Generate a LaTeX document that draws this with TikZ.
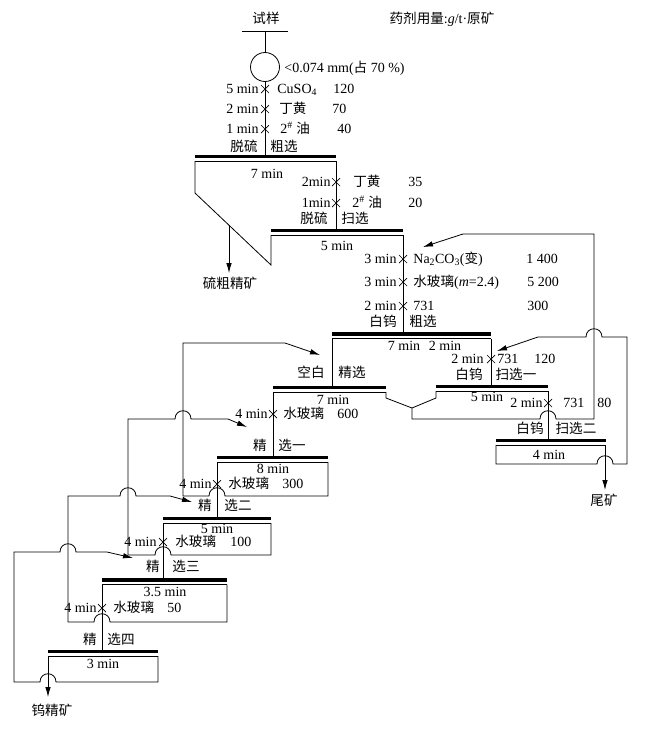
\documentclass[tikz,border=0pt]{standalone}
\usepackage{fontspec}
\setmainfont{Liberation Serif}
\newfontfamily\cjk[Scale=0.97]{Noto Sans CJK SC}
\usetikzlibrary{arrows.meta}
\newcommand\zhs[1]{{\cjk #1}}
\begin{document}
\begin{tikzpicture}[x=1pt,y=-1pt,line width=0.8pt,
  lbl/.style={inner sep=0pt,text height=11pt,text depth=1.5pt,font=\fontsize{14}{16}\selectfont},
  zh/.style={lbl,font=\fontsize{14}{16}\selectfont\cjk},
  arr/.style={-{Latex[length=10pt,width=5.5pt]}},
  barthick/.style={line width=3.5pt},
  barthin/.style={line width=0.7pt},
  xmark/.pic={\draw[line width=0.7pt] (-4,-4)--(4,4) (-4,4)--(4,-4);},
  hopl/.style 2 args={insert path={-- ({#1+8},#2) .. controls ({#1+8},{#2-11}) and ({#1-8},{#2-11}) .. ({#1-8},#2)}},
  hopr/.style 2 args={insert path={-- ({#1-8},#2) .. controls ({#1-8},{#2-11}) and ({#1+8},{#2-11}) .. ({#1+8},#2)}}]
\useasboundingbox (0,0) rectangle (648,729);
\newcommand\cellbar[3]{\draw[barthick] (#1,#3) -- (#2,#3); \draw[barthin] (#1,{#3+4.5}) -- (#2,{#3+4.5});}

% ---------- top ----------
\node[zh] (sample) at (266,19) {试样};
\node[lbl] (dose) at (442,19) {\zhs{药剂用量}:\textit{g}/t·\zhs{原矿}};
\draw (242,31) coordinate (tl) -- (288,31) coordinate (tr);
\node[circle,draw,minimum size=29pt,inner sep=0pt,line width=0.8pt] (grind) at (265,67) {};
\coordinate (top) at (265,31);
\draw (top) -- (grind.north);
\node[lbl,anchor=west] (size) at (284,68) {<0.074 mm(\zhs{占} 70 \%)};
\coordinate (b1top) at (265,154.75);
\draw (grind.south) -- (b1top);
\pic at (265,89) {xmark};
\pic at (265,109) {xmark};
\pic at (265,129) {xmark};
\node[lbl,anchor=east] (r1a) at (259,89) {5 min};
\node[lbl,anchor=west] (r1b) at (277,89) {CuSO\textsubscript{4}};
\node[lbl,anchor=west] (r1c) at (333,89) {120};
\node[lbl,anchor=east] (r2a) at (259,109) {2 min};
\node[zh,anchor=west] (r2b) at (279,109) {丁黄};
\node[lbl,anchor=west] (r2c) at (332,109) {70};
\node[lbl,anchor=east] (r3a) at (259,129) {1 min};
\node[lbl,anchor=west] (r3b) at (280,129) {2\textsuperscript{\#} \zhs{油}};
\node[lbl,anchor=west] (r3c) at (337,129) {40};
\node[zh] (c1a) at (244,147) {脱硫};
\node[zh] (c1b) at (284,147) {粗选};

% ---------- cell 1: 脱硫粗选 ----------
\cellbar{195}{336}{156.5}
\node[lbl] (t1) at (267,174) {7 min};
\draw (195,161) -- (195,193) -- (271,265) -- (271,235);
\draw (336,161) -- (336,228.75);
\pic at (336,182) {xmark};
\pic at (336,203) {xmark};
\node[lbl,anchor=east] (s1a) at (331,182) {2min};
\node[zh,anchor=west] (s1b) at (353,182) {丁黄};
\node[lbl,anchor=west] (s1c) at (408,182) {35};
\node[lbl,anchor=east] (s2a) at (331,203) {1min};
\node[lbl,anchor=west] (s2b) at (352,203) {2\textsuperscript{\#} \zhs{油}};
\node[lbl,anchor=west] (s2c) at (408,203) {20};
\node[zh] (c2a) at (314,219) {脱硫};
\node[zh] (c2b) at (355,219) {扫选};
\coordinate (sconc) at (229,225);
\node[zh] (sulf) at (230,284) {硫粗精矿};
\draw[arr] (sconc) -- (229,273);

% ---------- cell 2: 脱硫扫选 ----------
\cellbar{271}{403}{230.5}
\node[lbl] (t2) at (337,246) {5 min};
\draw (403,235) -- (403,332.25);
\pic at (403,259) {xmark};
\pic at (403,282) {xmark};
\pic at (403,306) {xmark};
\node[lbl,anchor=east] (w1a) at (397,259) {3 min};
\node[lbl,anchor=west] (w1b) at (413,259) {Na\textsubscript{2}CO\textsubscript{3}(\zhs{变})};
\node[lbl,anchor=west] (w1c) at (526,259) {1 400};
\node[lbl,anchor=east] (w2a) at (397,282) {3 min};
\node[lbl,anchor=west] (w2b) at (413,282) {\zhs{水玻璃}(\textit{m}=2.4)};
\node[lbl,anchor=west] (w2c) at (527,282) {5 200};
\node[lbl,anchor=east] (w3a) at (397,306) {2 min};
\node[lbl,anchor=west] (w3b) at (413,306) {731};
\node[lbl,anchor=west] (w3c) at (527,306) {300};
\node[zh] (c3a) at (383,322) {白钨};
\node[zh] (c3b) at (423,322) {粗选};

% ---------- cell 3: 白钨粗选 ----------
\cellbar{332}{491}{334}
\draw (332,338.5) -- (332,385.75);
\draw (491,338.5) -- (491,384.75);
\pic at (491,359) {xmark};
\node[lbl] (t3a) at (404,346) {7 min};
\node[lbl] (t3b) at (445,346) {2 min};
\node[lbl,anchor=east] (k1a) at (484,359) {2 min};
\node[lbl,anchor=west] (k1b) at (497,359) {731};
\node[lbl,anchor=west] (k1c) at (534,359) {120};
\node[zh] (c4a) at (311,373) {空白};
\node[zh] (c4b) at (352,373) {精选};
\node[zh] (c5a) at (469,375) {白钨};
\node[zh] (c5b) at (516,375) {扫选一};

% ---------- cell 4: 空白精选 ----------
\cellbar{273}{386}{387.5}
\node[lbl] (t4) at (333,400) {7 min};
\draw (273,392) -- (273,455.75);
\pic at (273,414) {xmark};
\node[lbl,anchor=east] (q1a) at (268,414) {4 min};
\node[zh,anchor=west] (q1b) at (283,414) {水玻璃};
\node[lbl,anchor=west] (q1c) at (337,414) {600};
\coordinate (roughfeed) at (423,247);
\draw[arr] (386,392) -- (386,398) -- (412,408) -- (412,419) [hopr={548}{419}] -- (594,419) -- (594,234) -- (463,234) -- (roughfeed);

% ---------- cell 5: 扫选一 ----------
\cellbar{436}{548}{386.5}
\node[lbl] (t5) at (487,397) {5 min};
\draw (436,391) -- (436,398) -- (412,408);
\draw (548,391) -- (548,438.75);
\pic at (548,403) {xmark};
\node[lbl,anchor=east] (p1a) at (543,403) {2 min};
\node[lbl,anchor=west] (p1b) at (563,403) {731};
\node[lbl,anchor=west] (p1c) at (597,403) {80};
\node[zh] (c6a) at (530,429) {白钨};
\node[zh] (c6b) at (576,429) {扫选二};

% ---------- cell 6: 扫选二 ----------
\cellbar{496}{606}{440.5}
\node[lbl] (t6) at (549,455) {4 min};
\coordinate (scav1feed) at (497,351);
\draw[arr] (496,445) -- (496,464) [hopr={605}{464}] -- (627,464) -- (627,337) [hopl={594}{337}] -- (538,337) -- (scav1feed);
\node[zh] (tail) at (604,501) {尾矿};
\draw[arr] (605,445) -- (605,490);

% ---------- cell 7: 精选一 ----------
\node[zh] (c7a) at (260,446) {精};
\node[zh] (c7b) at (292,446) {选一};
\cellbar{217}{328}{457.5}
\node[lbl] (t7) at (273,469) {8 min};
\draw (217,462) -- (217,516.75);
\pic at (217,484) {xmark};
\node[lbl,anchor=east] (m1a) at (212,484) {4 min};
\node[zh,anchor=west] (m1b) at (228,484) {水玻璃};
\node[lbl,anchor=west] (m1c) at (282,484) {300};
\coordinate (cl0feed) at (320,355);
\draw[arr] (328,462) -- (328,496) [hopl={217}{496}] -- (183,496) -- (183,343) -- (285,343) -- (cl0feed);

% ---------- cell 8: 精选二 ----------
\node[zh] (c8a) at (205,506) {精};
\node[zh] (c8b) at (238,506) {选二};
\cellbar{163}{271}{518.5}
\node[lbl] (t8) at (217,529) {5 min};
\draw (163,523) -- (163,578.25);
\pic at (163,542) {xmark};
\node[lbl,anchor=east] (n1a) at (157,542) {4 min};
\node[zh,anchor=west] (n1b) at (175,542) {水玻璃};
\node[lbl,anchor=west] (n1c) at (230,542) {100};
\coordinate (cl1feed) at (247,427);
\draw[arr] (271,523) -- (271,555) [hopl={163}{555}] -- (128,555) -- (128,419) [hopr={183}{419}] -- (228,419) -- (cl1feed);

% ---------- cell 9: 精选三 ----------
\node[zh] (c9a) at (153,567) {精};
\node[zh] (c9b) at (186,567) {选三};
\cellbar{102}{227}{580}
\node[lbl] (t9) at (165,592) {3.5 min};
\draw (102,584.5) -- (102,649.75);
\pic at (102,608) {xmark};
\node[lbl,anchor=east] (o1a) at (97,608) {4 min};
\node[zh,anchor=west] (o1b) at (113,608) {水玻璃};
\node[lbl,anchor=west] (o1c) at (167,608) {50};
\coordinate (cl2feed) at (192,502);
\draw[arr] (227,584.5) -- (227,622) [hopl={102}{622}] -- (68,622) -- (68,496) [hopr={128}{496}] -- (170,496) -- (cl2feed);

% ---------- cell 10: 精选四 ----------
\node[zh] (c10a) at (90,640) {精};
\node[zh] (c10b) at (121,640) {选四};
\cellbar{48}{158}{651.5}
\node[lbl] (t10) at (103,664) {3 min};
\node[zh] (conc) at (52,711) {钨精矿};
\draw[arr] (48,656) -- (48,697);
\coordinate (cl3feed) at (133,558);
\draw[arr] (158,656) -- (158,682) [hopl={48}{682}] -- (14,682) -- (14,552) [hopr={68}{552}] -- (107,552) -- (cl3feed);
\end{tikzpicture}
\end{document}
